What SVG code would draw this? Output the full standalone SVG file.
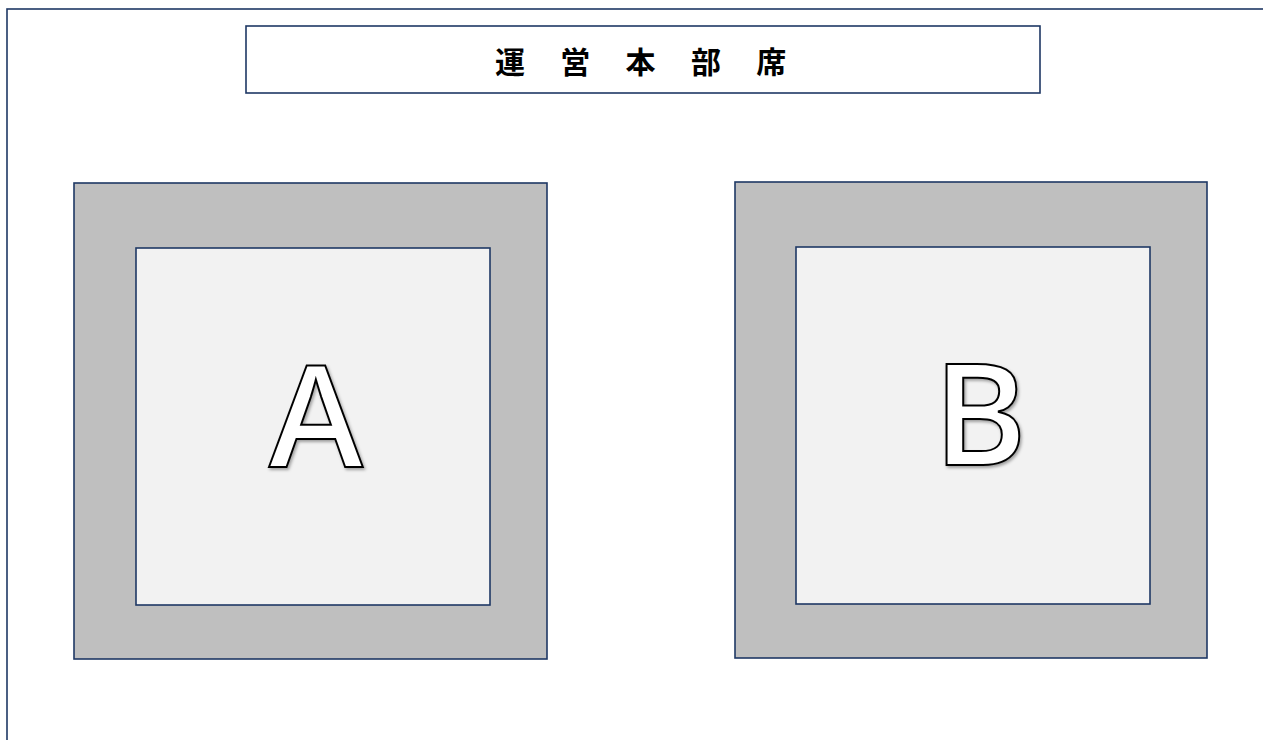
<svg xmlns="http://www.w3.org/2000/svg" width="1263" height="740" viewBox="0 0 1263 740">
<style>
.ln{fill:none;stroke:#1f3864;stroke-width:1.6}
.outer{fill:#bfbfbf;stroke:#1f3864;stroke-width:1.6}
.inner{fill:#f2f2f2;stroke:#1f3864;stroke-width:1.6}
.title{font-family:"Noto Sans CJK JP","Noto Sans CJK SC",sans-serif;font-weight:bold;font-size:30px;fill:#000}
.big{font-family:"Open Sans","Noto Sans",sans-serif;font-weight:600;font-size:142px;fill:#fff;stroke:#000;stroke-width:2;filter:url(#sh)}
</style>
<defs>
<filter id="sh" x="-20%" y="-20%" width="140%" height="140%">
<feDropShadow dx="1.5" dy="2" stdDeviation="1.5" flood-color="#000" flood-opacity="0.35"/>
</filter>
</defs>
<rect width="1263" height="740" fill="#fff"/>
<rect class="ln" x="7" y="9" width="1300" height="800"/>
<g id="title">
<rect class="ln" x="246" y="26" width="794" height="67" fill="#fff"/>
<text class="title" x="495" y="73" letter-spacing="35.3">運営本部席</text>
</g>
<g id="A">
<rect class="outer" x="74" y="183" width="473" height="476"/>
<rect class="inner" x="136" y="248" width="354" height="357"/>
<text class="big" x="316" y="467" text-anchor="middle">A</text>
</g>
<g id="B">
<rect class="outer" x="735" y="182" width="472" height="476"/>
<rect class="inner" x="796" y="247" width="354" height="357"/>
<text class="big" x="980" y="465" text-anchor="middle">B</text>
</g>
<g id="connectors"></g>
</svg>
